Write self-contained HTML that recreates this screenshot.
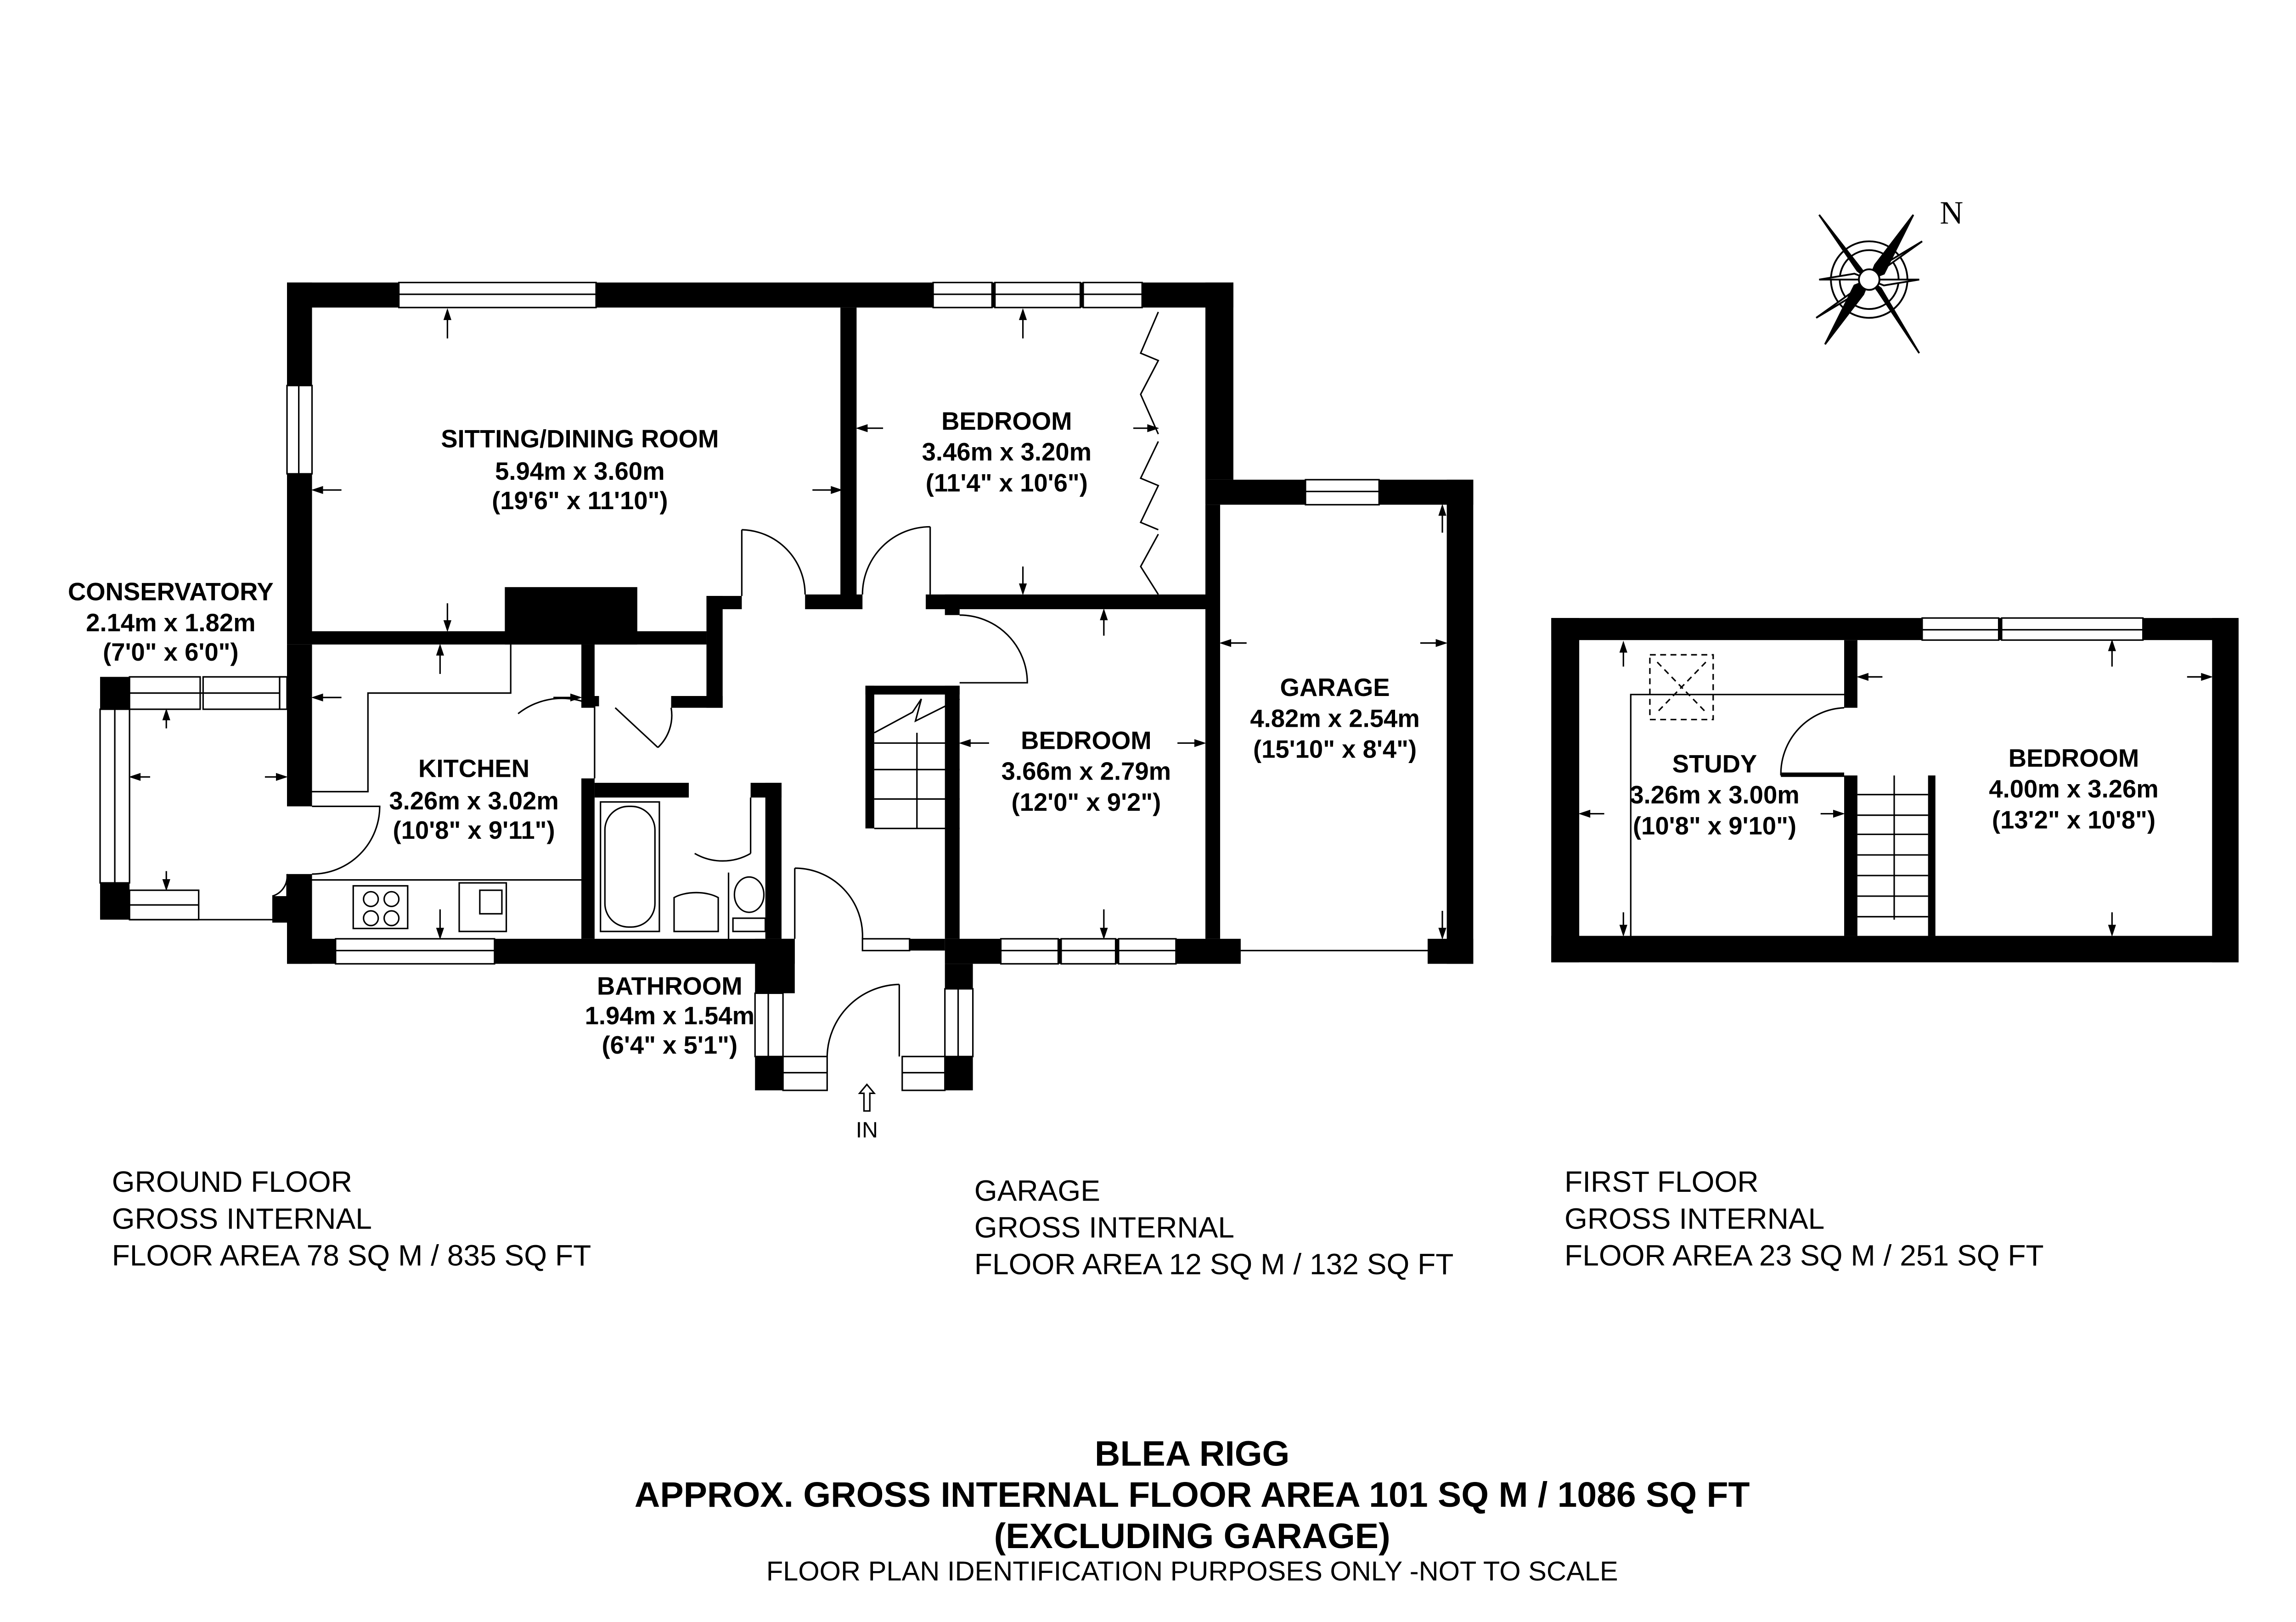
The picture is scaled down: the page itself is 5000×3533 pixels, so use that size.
<!DOCTYPE html>
<html><head><meta charset="utf-8"><style>html,body{margin:0;padding:0;background:#fff}svg{display:block}</style></head><body>
<svg width="5000" height="3533" viewBox="0 0 1560 1102.3" xmlns="http://www.w3.org/2000/svg" font-family="Liberation Sans, Arial, sans-serif">
<rect width="1560" height="1103" fill="#fff"/>
<g fill="#000">
<rect x="195" y="192" width="643" height="17"/>
<rect x="195" y="192" width="17" height="246"/>
<rect x="819" y="192" width="19" height="134"/>
<rect x="819" y="326" width="182" height="17"/>
<rect x="983" y="326" width="18" height="329"/>
<rect x="819" y="343" width="10" height="295"/>
<rect x="799" y="638" width="44" height="17"/>
<rect x="970" y="638" width="31" height="17"/>
<rect x="571" y="209" width="11" height="201"/>
<rect x="629" y="404" width="190" height="10"/>
<rect x="547" y="404" width="39" height="10"/>
<rect x="212" y="429" width="268" height="9"/>
<rect x="343" y="399" width="90" height="39"/>
<rect x="480" y="405" width="11" height="76"/>
<rect x="480" y="405" width="24" height="9"/>
<rect x="395" y="438" width="9" height="43"/>
<rect x="395" y="473" width="12" height="7"/>
<rect x="456" y="473" width="35" height="8"/>
<rect x="395" y="529" width="9" height="109"/>
<rect x="404" y="532" width="64" height="10"/>
<rect x="510" y="532" width="21" height="10"/>
<rect x="520" y="532" width="11" height="106"/>
<rect x="642" y="404" width="10" height="14"/>
<rect x="642" y="466" width="10" height="172"/>
<rect x="588" y="466" width="64" height="6"/>
<rect x="588" y="466" width="6" height="97"/>
<rect x="195" y="438" width="17" height="110"/>
<rect x="195" y="594" width="17" height="61"/>
<rect x="185" y="609" width="10" height="18"/>
<rect x="195" y="638" width="33" height="17"/>
<rect x="336" y="638" width="204" height="17"/>
<rect x="618" y="638" width="24" height="8"/>
<rect x="642" y="638" width="157" height="17"/>
<rect x="513" y="638" width="27" height="37"/>
<rect x="513" y="718" width="19" height="23"/>
<rect x="642" y="655" width="19" height="17"/>
<rect x="642" y="718" width="19" height="23"/>
<rect x="68" y="460" width="20" height="22"/>
<rect x="68" y="600" width="20" height="25"/>
<rect x="1054" y="420" width="467" height="15"/>
<rect x="1054" y="420" width="19" height="234"/>
<rect x="1503" y="420" width="18" height="234"/>
<rect x="1054" y="636" width="467" height="18"/>
<rect x="1253" y="435" width="9" height="46"/>
<rect x="1253" y="527" width="9" height="109"/>
<rect x="1210" y="525" width="43" height="3"/>
<rect x="1310" y="527" width="5" height="109"/>
</g>
<g fill="#fff" stroke="#000" stroke-width="1">
<rect x="271" y="192" width="134" height="17"/><line x1="271" y1="200" x2="405" y2="200"/>
<rect x="634" y="192" width="40" height="17"/><rect x="676" y="192" width="58" height="17"/><rect x="736" y="192" width="40" height="17"/>
<line x1="634" y1="200" x2="776" y2="200"/>
<rect x="195" y="262" width="17" height="60"/><line x1="203" y1="262" x2="203" y2="322"/>
<rect x="887" y="326" width="50" height="17"/><line x1="887" y1="334" x2="937" y2="334"/>
<rect x="228" y="638" width="108" height="17"/><line x1="228" y1="646" x2="336" y2="646"/>
<rect x="586" y="638" width="32" height="8"/>
<rect x="680" y="638" width="39" height="17"/><rect x="721" y="638" width="37" height="17"/><rect x="760" y="638" width="39" height="17"/><line x1="680" y1="646" x2="799" y2="646"/>
<rect x="513" y="675" width="19" height="43"/><line x1="522" y1="675" x2="522" y2="718"/>
<rect x="642" y="672" width="19" height="46"/><line x1="651" y1="672" x2="651" y2="718"/>
<rect x="532" y="718" width="30" height="23"/><line x1="532" y1="729" x2="562" y2="729"/>
<rect x="613" y="718" width="29" height="23"/><line x1="613" y1="729" x2="642" y2="729"/>
<rect x="88" y="460" width="48" height="22"/><rect x="138" y="460" width="52" height="22"/><line x1="88" y1="471" x2="190" y2="471"/>
<rect x="190" y="460" width="5" height="22"/>
<rect x="68" y="482" width="20" height="118"/><line x1="78" y1="482" x2="78" y2="600"/>
<rect x="88" y="605" width="47" height="20"/><line x1="88" y1="615" x2="135" y2="615"/>
<rect x="1306" y="420" width="52" height="15"/><rect x="1360" y="420" width="96" height="15"/><line x1="1306" y1="428" x2="1456" y2="428"/>
</g>
<g fill="none" stroke="#000" stroke-width="1">
<line x1="190" y1="460" x2="195" y2="460"/>
<line x1="88" y1="625" x2="195" y2="625"/>
<line x1="195" y1="600" x2="195" y2="625"/>
<line x1="843" y1="646" x2="970" y2="646"/>
<path d="M504 360 L504 405 M504 360 A44 44 0 0 1 547 404"/>
<path d="M632 358 L632 404 M632 358 A46 46 0 0 0 586 404"/>
<path d="M652 418 A46 46 0 0 1 698 464 L652 464"/>
<path d="M404 480 L404 529 M404 480 A 48 48 0 0 0 352 485"/>
<path d="M418 481 L447 508 M447 508 A30 30 0 0 0 456 481"/>
<path d="M212 594 A46 46 0 0 0 258 548 L212 548"/>
<path d="M510 542 L510 580 M510 580 A38 38 0 0 1 472 580"/>
<path d="M540 590 L540 638 M540 590 A46 46 0 0 1 586 638"/>
<path d="M611 669 L611 718 M611 669 A50 50 0 0 0 562 718"/>
<path d="M195 594 A 14 14 0 0 1 185 609"/>
<path d="M1210 527 A 45 45 0 0 1 1253 481"/>
<polyline points="212,538 250,538 250,471 347,471 347,438"/>
<line x1="212" y1="598" x2="395" y2="598"/>
<rect x="240" y="602" width="37" height="29"/>
<circle cx="252" cy="611" r="5"/><circle cx="266" cy="611" r="5"/><circle cx="252" cy="624" r="5"/><circle cx="266" cy="624" r="5"/>
<rect x="312" y="600" width="32" height="33"/><rect x="326" y="605" width="15" height="16"/>
<rect x="408" y="545" width="40" height="88"/>
<rect x="411" y="548" width="34" height="82" rx="16"/>
<path d="M458 633 L458 610 A20 10 0 0 1 488 610 L488 633 Z"/>
<ellipse cx="509" cy="608" rx="10" ry="12"/><rect x="498" y="624" width="22" height="9"/>
<line x1="495" y1="593" x2="495" y2="638"/>
<polyline points="594,498 620,484 626,475 622,490 652,475"/>
<line x1="594" y1="505" x2="652" y2="505"/>
<line x1="594" y1="523" x2="652" y2="523"/>
<line x1="594" y1="543" x2="652" y2="543"/>
<line x1="623" y1="498" x2="623" y2="563"/>
<line x1="594" y1="563" x2="652" y2="563"/>
<polyline points="787,212 775,240 787,245 775,268 787,295"/>
<polyline points="787,300 775,325 787,330 775,355 787,360"/>
<polyline points="787,363 775,385 787,404"/>
<line x1="1287" y1="527" x2="1287" y2="625"/>
<line x1="1262" y1="540" x2="1310" y2="540"/><line x1="1262" y1="554" x2="1310" y2="554"/><line x1="1262" y1="567" x2="1310" y2="567"/><line x1="1262" y1="581" x2="1310" y2="581"/><line x1="1262" y1="595" x2="1310" y2="595"/><line x1="1262" y1="609" x2="1310" y2="609"/><line x1="1262" y1="623" x2="1310" y2="623"/>
<polyline points="1108,636 1108,472 1253,472"/>
<rect x="1121" y="445" width="43" height="44" stroke-dasharray="4,3"/>
<line x1="1126" y1="450" x2="1159" y2="484" stroke-dasharray="4,3"/><line x1="1159" y1="450" x2="1126" y2="484" stroke-dasharray="4,3"/>
<path d="M589 737 L584 743 L587 743 L587 755 L591 755 L591 743 L594 743 Z"/>
</g>
<g transform="translate(1270,190)" stroke="#000" stroke-width="1.2" fill="#fff">
<circle r="26"/><circle r="20"/>
<path d="M0 0 L-6 -8 L-34 -44 L-8 -6 Z" fill="#000"/>
<path d="M0 0 L6 8 L34 50 L8 6 Z" fill="#000"/>
<path d="M0 0 L8 -6 L36 -26 L6 -8 Z"/>
<path d="M0 0 L-8 6 L-36 26 L-6 8 Z"/>
<path d="M0 0 L10 -4 L30 -44 L4 -10 Z" fill="#000"/>
<path d="M0 0 L-10 4 L-30 44 L-4 10 Z" fill="#000"/>
<path d="M0 0 L-10 -4 L-34 0 Z"/><path d="M0 0 L10 4 L34 0 Z"/>
<circle r="7" fill="#fff"/>
</g>
<text x="1318" y="152" font-family="Liberation Serif, serif" font-size="22">N</text>
<g font-weight="bold" font-size="17" text-anchor="middle">
<text x="394" y="304">SITTING/DINING ROOM</text><text x="394" y="326">5.94m x 3.60m</text><text x="394" y="346">(19'6" x 11'10")</text>
<text x="684" y="292">BEDROOM</text><text x="684" y="313">3.46m x 3.20m</text><text x="684" y="334">(11'4" x 10'6")</text>
<text x="116" y="408">CONSERVATORY</text><text x="116" y="429">2.14m x 1.82m</text><text x="116" y="449">(7'0" x 6'0")</text>
<text x="322" y="528">KITCHEN</text><text x="322" y="550">3.26m x 3.02m</text><text x="322" y="570">(10'8" x 9'11")</text>
<text x="738" y="509">BEDROOM</text><text x="738" y="530">3.66m x 2.79m</text><text x="738" y="551">(12'0" x 9'2")</text>
<text x="907" y="473">GARAGE</text><text x="907" y="494">4.82m x 2.54m</text><text x="907" y="515">(15'10" x 8'4")</text>
<text x="455" y="676">BATHROOM</text><text x="455" y="696">1.94m x 1.54m</text><text x="455" y="716">(6'4" x 5'1")</text>
<text x="1165" y="525">STUDY</text><text x="1165" y="546">3.26m x 3.00m</text><text x="1165" y="567">(10'8" x 9'10")</text>
<text x="1409" y="521">BEDROOM</text><text x="1409" y="542">4.00m x 3.26m</text><text x="1409" y="563">(13'2" x 10'8")</text>
</g>
<text x="589" y="773" font-size="15" text-anchor="middle">IN</text>
<g font-size="20">
<text x="76" y="810">GROUND FLOOR</text><text x="76" y="835">GROSS INTERNAL</text><text x="76" y="860">FLOOR AREA 78 SQ M / 835 SQ FT</text>
<text x="662" y="816">GARAGE</text><text x="662" y="841">GROSS INTERNAL</text><text x="662" y="866">FLOOR AREA 12 SQ M / 132 SQ FT</text>
<text x="1063" y="810">FIRST FLOOR</text><text x="1063" y="835">GROSS INTERNAL</text><text x="1063" y="860">FLOOR AREA 23 SQ M / 251 SQ FT</text>
</g>
<g text-anchor="middle" font-weight="bold" font-size="24">
<text x="810" y="996">BLEA RIGG</text>
<text x="810" y="1024">APPROX. GROSS INTERNAL FLOOR AREA 101 SQ M / 1086 SQ FT</text>
<text x="810" y="1052">(EXCLUDING GARAGE)</text>
</g>
<text x="810" y="1074" text-anchor="middle" font-size="18.6">FLOOR PLAN IDENTIFICATION PURPOSES ONLY -NOT TO SCALE</text>
<g stroke="#000" stroke-width="1" fill="#000">
<line x1="304" y1="211" x2="304" y2="230"/><path d="M304 211 l-2 6 h4z"/>
<line x1="304" y1="410" x2="304" y2="428"/><path d="M304 428 l-2 -6 h4z"/>
<line x1="213" y1="333" x2="232" y2="333"/><path d="M213 333 l6 -2 v4z"/>
<line x1="552" y1="333" x2="571" y2="333"/><path d="M571 333 l-6 -2 v4z"/>
<line x1="695" y1="211" x2="695" y2="230"/><path d="M695 211 l-2 6 h4z"/>
<line x1="695" y1="385" x2="695" y2="403"/><path d="M695 403 l-2 -6 h4z"/>
<line x1="583" y1="291" x2="600" y2="291"/><path d="M583 291 l6 -2 v4z"/>
<line x1="770" y1="291" x2="786" y2="291"/><path d="M786 291 l-6 -2 v4z"/>
<line x1="750" y1="415" x2="750" y2="432"/><path d="M750 415 l-2 6 h4z"/>
<line x1="750" y1="618" x2="750" y2="637"/><path d="M750 637 l-2 -6 h4z"/>
<line x1="653" y1="505" x2="672" y2="505"/><path d="M653 505 l6 -2 v4z"/>
<line x1="800" y1="505" x2="818" y2="505"/><path d="M818 505 l-6 -2 v4z"/>
<line x1="980" y1="344" x2="980" y2="362"/><path d="M980 344 l-2 6 h4z"/>
<line x1="980" y1="619" x2="980" y2="637"/><path d="M980 637 l-2 -6 h4z"/>
<line x1="830" y1="437" x2="847" y2="437"/><path d="M830 437 l6 -2 v4z"/>
<line x1="965" y1="437" x2="982" y2="437"/><path d="M982 437 l-6 -2 v4z"/>
<line x1="299" y1="439" x2="299" y2="458"/><path d="M299 439 l-2 6 h4z"/>
<line x1="299" y1="618" x2="299" y2="637"/><path d="M299 637 l-2 -6 h4z"/>
<line x1="213" y1="474" x2="232" y2="474"/><path d="M213 474 l6 -2 v4z"/>
<line x1="376" y1="474" x2="394" y2="474"/><path d="M394 474 l-6 -2 v4z"/>
<line x1="113" y1="483" x2="113" y2="495"/><path d="M113 483 l-2 6 h4z"/>
<line x1="113" y1="592" x2="113" y2="604"/><path d="M113 604 l-2 -6 h4z"/>
<line x1="89" y1="528" x2="102" y2="528"/><path d="M89 528 l6 -2 v4z"/>
<line x1="180" y1="528" x2="194" y2="528"/><path d="M194 528 l-6 -2 v4z"/>
<line x1="1103" y1="437" x2="1103" y2="453"/><path d="M1103 437 l-2 6 h4z"/>
<line x1="1103" y1="620" x2="1103" y2="635"/><path d="M1103 635 l-2 -6 h4z"/>
<line x1="1074" y1="553" x2="1090" y2="553"/><path d="M1074 553 l6 -2 v4z"/>
<line x1="1237" y1="553" x2="1252" y2="553"/><path d="M1252 553 l-6 -2 v4z"/>
<line x1="1435" y1="436" x2="1435" y2="453"/><path d="M1435 436 l-2 6 h4z"/>
<line x1="1435" y1="620" x2="1435" y2="635"/><path d="M1435 635 l-2 -6 h4z"/>
<line x1="1263" y1="460" x2="1279" y2="460"/><path d="M1263 460 l6 -2 v4z"/>
<line x1="1486" y1="460" x2="1502" y2="460"/><path d="M1502 460 l-6 -2 v4z"/>
</g>
</svg>
</body></html>
